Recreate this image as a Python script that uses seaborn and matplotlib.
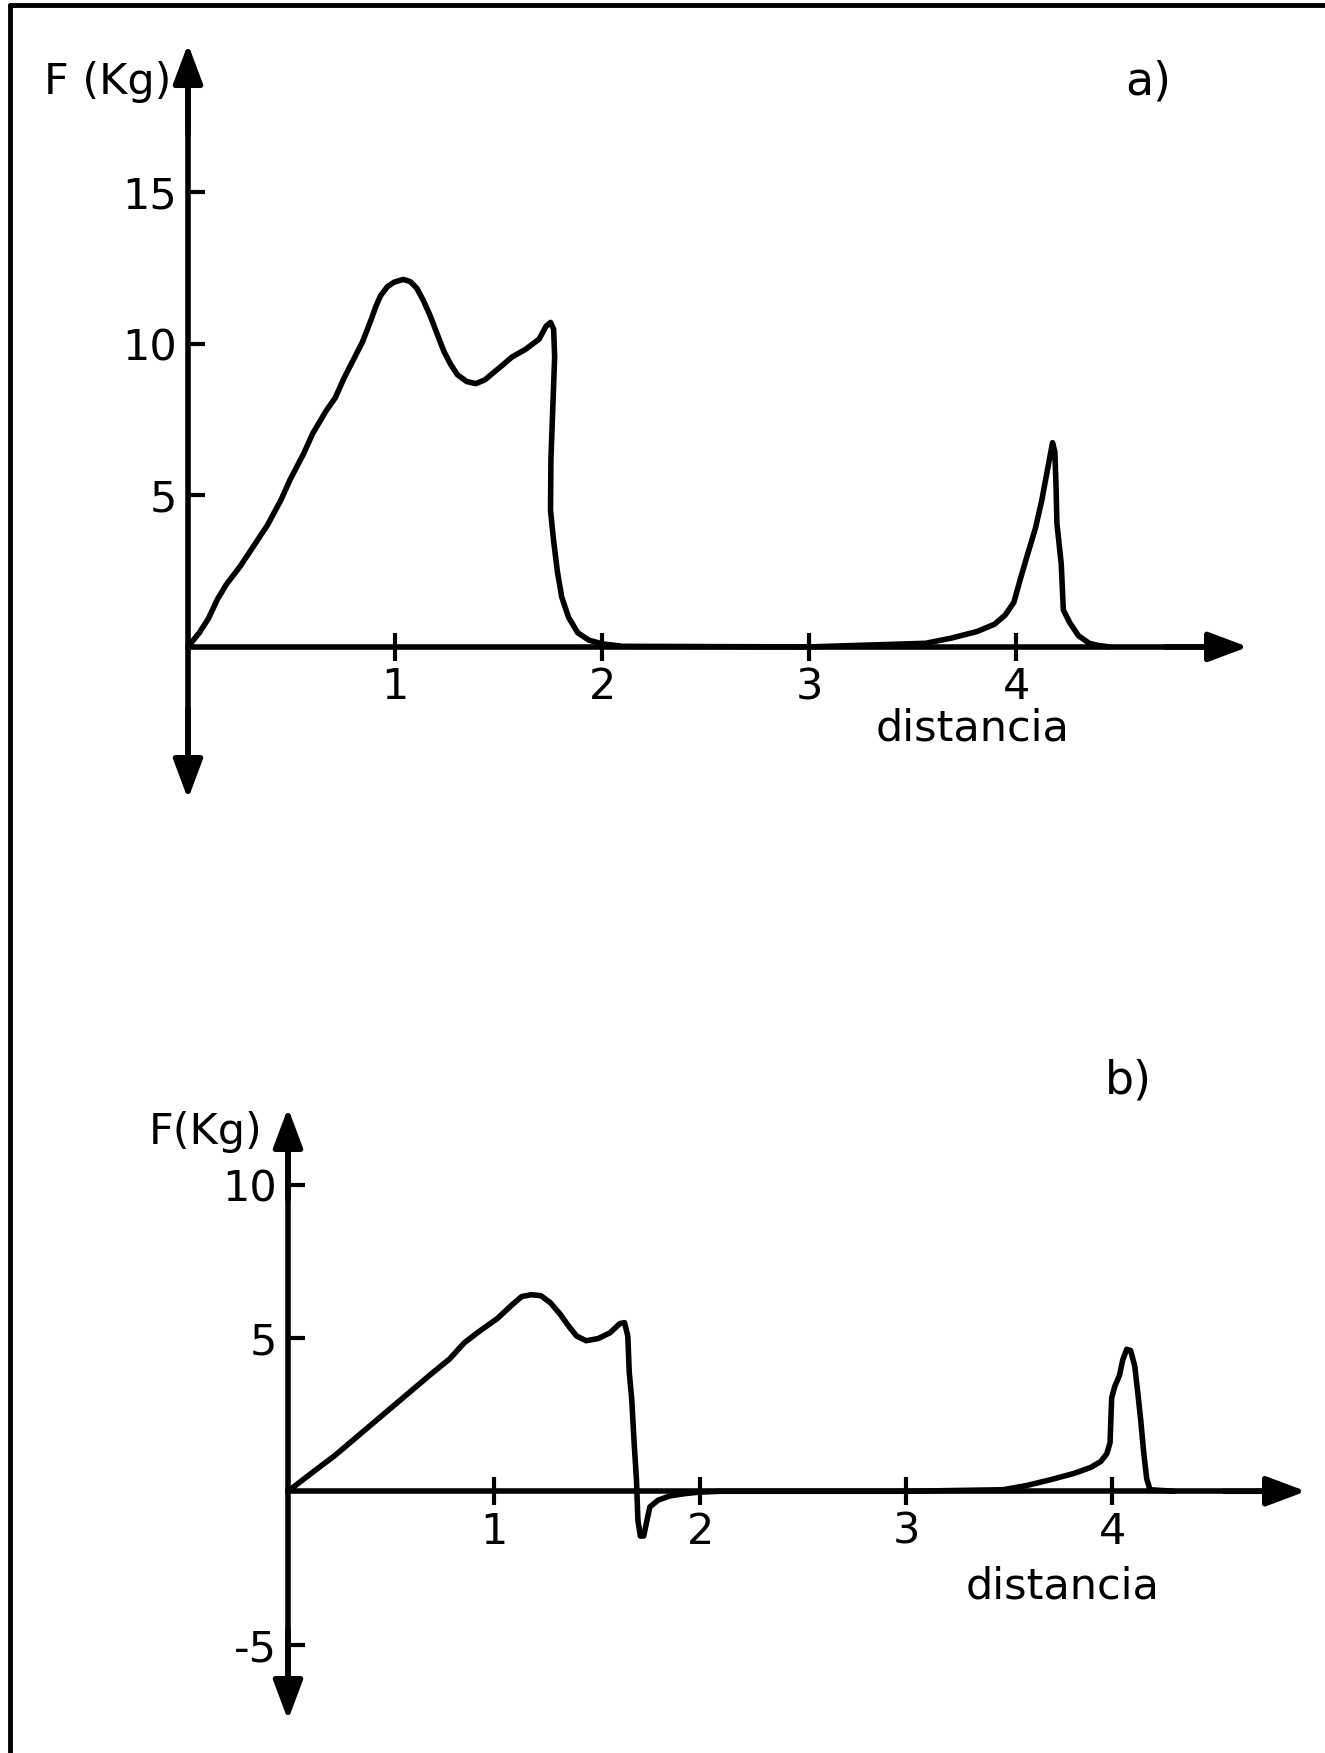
import numpy as np
import pandas as pd
import matplotlib
matplotlib.use("Agg")
import matplotlib.pyplot as plt
from matplotlib.lines import Line2D
import seaborn as sns

# ---- data ----
dist_a = [0, 0.011, 0.055, 0.099, 0.142, 0.186, 0.252, 0.318, 0.383, 0.449, 0.493,
          0.558, 0.602, 0.668, 0.711, 0.755, 0.799, 0.843, 0.886, 0.908, 0.930,
          0.963, 0.996, 1.040, 1.073, 1.105, 1.138, 1.171, 1.204, 1.237, 1.270,
          1.302, 1.346, 1.390, 1.433, 1.477, 1.521, 1.565, 1.630, 1.696, 1.729,
          1.751, 1.766, 1.771, 1.762, 1.753, 1.751, 1.766, 1.784, 1.805, 1.838,
          1.882, 1.937, 2.002, 2.10, 3.00, 3.563, 3.687, 3.812, 3.896, 3.947,
          3.989, 4.020, 4.052, 4.093, 4.124, 4.149, 4.176, 4.187, 4.193, 4.197,
          4.218, 4.228, 4.259, 4.301, 4.353, 4.395, 4.45]
force_a = [0, 0.10, 0.47, 0.94, 1.57, 2.07, 2.66, 3.34, 4.01, 4.85, 5.52,
           6.37, 7.04, 7.80, 8.22, 8.89, 9.48, 10.07, 10.83, 11.25, 11.59,
           11.89, 12.04, 12.13, 12.06, 11.84, 11.42, 10.91, 10.32, 9.74, 9.31,
           8.98, 8.76, 8.69, 8.81, 9.06, 9.31, 9.57, 9.82, 10.16, 10.58,
           10.71, 10.49, 9.57, 7.88, 6.20, 4.51, 3.50, 2.50, 1.65, 0.98,
           0.47, 0.22, 0.10, 0.02, 0, 0.12, 0.29, 0.51, 0.75, 1.05,
           1.47, 2.23, 2.98, 3.91, 4.84, 5.76, 6.74, 6.44, 5.26, 4.08,
           2.73, 1.22, 0.80, 0.37, 0.12, 0.05, 0]

dist_b = [0, 0.019, 0.112, 0.228, 0.344, 0.460, 0.576, 0.692, 0.785, 0.855, 0.925,
          1.017, 1.087, 1.134, 1.180, 1.227, 1.273, 1.319, 1.366, 1.401, 1.447,
          1.505, 1.563, 1.610, 1.633, 1.649, 1.656, 1.668, 1.680, 1.691, 1.698,
          1.710, 1.726, 1.742, 1.756, 1.796, 1.854, 1.923, 1.993, 2.10, 3.00,
          3.470, 3.586, 3.702, 3.818, 3.896, 3.944, 3.973, 3.989, 3.993, 3.997,
          4.012, 4.035, 4.051, 4.070, 4.089, 4.109, 4.124, 4.138, 4.152, 4.167,
          4.183, 4.30]
force_b = [0, 0.10, 0.58, 1.17, 1.83, 2.49, 3.15, 3.81, 4.32, 4.84, 5.20,
           5.64, 6.08, 6.35, 6.41, 6.38, 6.15, 5.79, 5.35, 5.06, 4.91,
           4.98, 5.17, 5.47, 5.50, 5.06, 3.88, 3.00, 1.54, 0.37, -0.95,
           -1.46, -1.46, -0.95, -0.51, -0.29, -0.15, -0.08, -0.03, 0, 0,
           0.05, 0.19, 0.38, 0.59, 0.78, 0.97, 1.22, 1.58, 2.32, 3.05,
           3.42, 3.78, 4.29, 4.63, 4.59, 4.08, 3.20, 2.32, 1.29, 0.41,
           0.05, 0]

xticks = [1, 2, 3, 4]
yticks_a = [5, 10, 15]
yticks_b = [-5, 5, 10]
ylabel = "F (Kg)"
ylabel_b = "F(Kg)"
xlabel = "distancia"
panel_a = "a)"
panel_b = "b)"

# ---- style ----
sns.set_theme(style="white")
plt.rcParams["font.family"] = ["DejaVu Sans"]
plt.rcParams["axes.unicode_minus"] = False
plt.rcParams["text.color"] = "black"
plt.rcParams["xtick.color"] = "black"
plt.rcParams["ytick.color"] = "black"

W, H = 1325, 1753
fig = plt.figure(figsize=(W / 100, H / 100), dpi=100)
fig.patch.set_facecolor("white")
fig.patch.set_edgecolor("white")
fig.patch.set_linewidth(0)

LW = 4.0
FS = 31


def make_axes(x0_px, x1_px, y_top_px, y_bot_px, xmax, ymin, ymax):
    ax = fig.add_axes([x0_px / W, 1 - y_bot_px / H,
                       (x1_px - x0_px) / W, (y_bot_px - y_top_px) / H])
    ax.set_xlim(0, xmax)
    ax.set_ylim(ymin, ymax)
    ax.set_facecolor("none")
    for s in ["top", "right"]:
        ax.spines[s].set_visible(False)
    ax.spines["bottom"].set_position(("data", 0))
    for s in ["left", "bottom"]:
        ax.spines[s].set_linewidth(LW)
        ax.spines[s].set_color("black")
    ax.spines["bottom"].set_bounds(0, xmax - 0.1)
    ax.spines["left"].set_bounds(ymin + 0.8, ymax - 0.8)
    # arrow heads
    ap = dict(arrowstyle="-|>,head_length=0.8,head_width=0.3", color="black",
              lw=LW, mutation_scale=30, shrinkA=0, shrinkB=0)
    ax.annotate("", xy=(xmax, 0), xytext=(xmax - 0.4, 0), arrowprops=ap,
                annotation_clip=False)
    ax.annotate("", xy=(0, ymax), xytext=(0, ymax - 3), arrowprops=ap,
                annotation_clip=False)
    ax.annotate("", xy=(0, ymin), xytext=(0, ymin + 3), arrowprops=ap,
                annotation_clip=False)
    ax.tick_params(axis="x", direction="inout", length=20, width=3, color="black",
                   labelsize=FS, pad=4, bottom=True, labelcolor="black")
    ax.tick_params(axis="y", direction="in", length=12, width=3, color="black",
                   labelsize=FS, pad=8, left=True, labelcolor="black")
    ax.grid(False)
    return ax


# ---- panel a ----
axa = make_axes(188, 1248, 44, 799, 5.12, -5.02, 19.9)
sns.lineplot(x=dist_a, y=force_a, sort=False, estimator=None, ax=axa,
             color="black", lw=LW)
axa.set_xticks(xticks)
axa.set_xticklabels([str(t) for t in xticks])
axa.set_yticks(yticks_a)
axa.set_yticklabels([str(t) for t in yticks_a])
axa.set_xlabel("")
axa.set_ylabel("")
axa.text(-0.39, 18.65, ylabel, fontsize=FS, ha="center", va="center", color="black")
axa.text(4.64, 18.65, panel_a, fontsize=FS + 2, ha="center", va="center", color="black")
axa.text(3.79, -2.68, xlabel, fontsize=FS, ha="center", va="center", color="black")

# ---- panel b ----
axb = make_axes(288, 1306, 1108, 1720, 4.94, -7.46, 12.5)
sns.lineplot(x=dist_b, y=force_b, sort=False, estimator=None, ax=axb,
             color="black", lw=LW)
axb.set_xticks(xticks)
axb.set_xticklabels([str(t) for t in xticks])
axb.set_yticks(yticks_b)
axb.set_yticklabels([str(t) for t in yticks_b])
axb.set_xlabel("")
axb.set_ylabel("")
axb.text(-0.40, 11.72, ylabel_b, fontsize=FS, ha="center", va="center", color="black")
axb.text(4.08, 13.39, panel_b, fontsize=FS + 2, ha="center", va="center", color="black")
axb.text(3.76, -3.1, xlabel, fontsize=FS, ha="center", va="center", color="black")

# ---- frame lines (top and left) ----
fig.add_artist(Line2D([10 / W, 1], [1 - 5 / H, 1 - 5 / H], color="black", lw=3.5,
                      transform=fig.transFigure))
fig.add_artist(Line2D([10 / W, 10 / W], [0, 1 - 5 / H], color="black", lw=3.5,
                      transform=fig.transFigure))

fig.savefig("out.png", dpi=100, facecolor="white")
